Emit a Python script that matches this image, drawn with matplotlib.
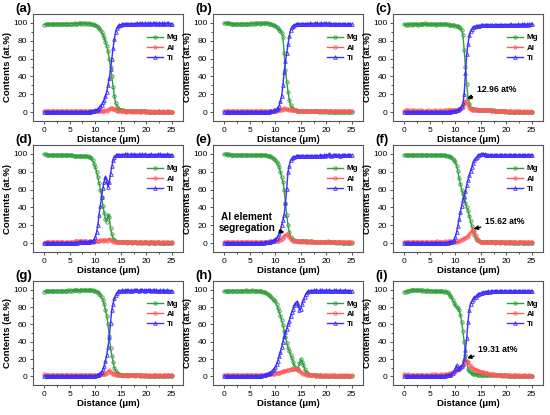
import numpy as np
import matplotlib
matplotlib.use("Agg")
import matplotlib.pyplot as plt

plt.rcParams['font.family'] = ['Liberation Sans', 'DejaVu Sans']

# ===== Data (EDS line scans, 0-25 um, 0.25 um step) =====
distance = np.linspace(0, 25, 101)

mg_a = [98.2, 98.5, 98.3, 98.6, 98.4, 98.8, 98.5, 98.7, 98.9, 98.6, 98.8, 99.0, 98.7, 98.9, 99.1, 98.8, 99.0, 98.9, 99.2, 99.0,
        99.1, 99.3, 99.0, 99.2, 99.4, 99.1, 99.3, 99.5, 99.6, 99.2, 99.4, 99.5, 99.3, 99.6, 99.1, 99.4, 99.2, 98.9, 98.5, 98.0,
        97.3, 96.5, 95.4, 94.0, 92.2, 90.0, 87.0, 83.5, 79.0, 74.0, 68.0, 60.0, 50.0, 40.0, 28.0, 18.0, 10.0, 6.0, 4.0, 3.0,
        2.3, 2.0, 1.8, 1.7, 1.6, 1.5, 1.5, 1.4, 1.3, 1.3, 1.2, 1.2, 1.1, 1.0, 1.0, 0.9, 0.9, 0.8, 0.8, 0.7,
        0.7, 0.6, 0.6, 0.5, 0.5, 0.4, 0.4, 0.3, 0.3, 0.2, 0.2, 0.2, 0.1, 0.1, 0.1, 0.0, 0.0, 0.0, 0.0, 0.0,
        0.0]
al_a = [1.5, 1.2, 1.6, 1.3, 1.1, 1.5, 1.2, 1.4, 1.0, 1.3, 1.5, 1.1, 1.4, 1.2, 1.6, 1.3, 1.0, 1.4, 1.2, 1.5,
        1.1, 1.3, 1.0, 1.4, 1.2, 0.9, 1.3, 1.1, 1.4, 1.0, 1.2, 0.9, 1.1, 1.3, 1.0, 1.2, 0.9, 1.1, 1.0, 1.2,
        0.9, 1.1, 1.3, 1.0, 1.2, 1.5, 1.1, 1.4, 1.8, 1.5, 2.2, 3.0, 4.2, 5.0, 4.0, 3.0, 2.2, 1.6, 1.2, 1.0,
        0.8, 1.0, 0.7, 0.9, 0.6, 0.8, 1.0, 0.7, 0.5, 0.8, 0.6, 0.9, 0.7, 0.5, 0.8, 0.6, 0.4, 0.7, 0.9, 0.6,
        0.5, 0.8, 0.6, 0.4, 0.7, 0.5, 0.8, 0.6, 0.4, 0.7, 0.9, 0.6, 0.5, 0.8, 0.6, 0.4, 0.7, 0.5, 0.8, 0.6,
        0.5]
ti_a = [0.3, 0.2, 0.4, 0.3, 0.2, 0.3, 0.4, 0.2, 0.3, 0.2, 0.3, 0.4, 0.3, 0.2, 0.3, 0.2, 0.4, 0.3, 0.2, 0.3,
        0.3, 0.2, 0.4, 0.3, 0.2, 0.3, 0.2, 0.4, 0.3, 0.2, 0.3, 0.3, 0.4, 0.3, 0.4, 0.5, 0.6, 0.8, 1.0, 1.4,
        2.0, 2.8, 3.8, 5.0, 6.5, 8.5, 11.0, 14.0, 18.0, 23.0, 30.0, 38.0, 48.0, 60.0, 72.0, 82.0, 90.0, 94.5, 96.5, 97.5,
        98.0, 98.3, 98.5, 98.7, 98.6, 98.9, 99.0, 98.8, 99.1, 99.0, 99.2, 99.3, 99.1, 99.4, 99.2, 99.5, 99.3, 99.4, 99.2, 99.5,
        99.3, 99.4, 99.2, 99.5, 99.3, 99.4, 99.6, 99.3, 99.5, 99.2, 99.4, 99.3, 99.5, 99.2, 99.4, 99.3, 99.5, 99.4, 99.2, 99.3,
        99.1]

mg_b = [99.5, 99.8, 100.0, 99.7, 99.4, 99.2, 99.0, 98.8, 98.6, 98.5, 98.7, 98.9, 99.0, 98.8, 99.1, 99.0, 99.2, 99.1, 99.3, 99.2,
        99.3, 99.4, 99.2, 99.5, 99.3, 99.6, 99.4, 99.5, 99.3, 99.6, 99.4, 99.5, 99.7, 99.4, 99.6, 99.3, 99.0, 98.7, 98.2, 97.6,
        96.8, 95.6, 94.0, 92.5, 91.0, 89.0, 84.0, 66.0, 47.0, 34.0, 23.0, 14.0, 8.0, 5.0, 3.5, 2.5, 2.0, 1.7, 1.5, 1.3,
        1.2, 1.1, 1.0, 1.0, 0.9, 1.1, 0.9, 0.8, 1.0, 0.8, 0.7, 0.9, 0.7, 0.8, 0.6, 0.8, 0.7, 0.5, 0.7, 0.6,
        0.8, 0.6, 0.5, 0.7, 0.5, 0.6, 0.4, 0.6, 0.5, 0.3, 0.5, 0.4, 0.6, 0.4, 0.3, 0.5, 0.3, 0.4, 0.2, 0.3,
        0.2]
al_b = [0.8, 1.0, 1.2, 0.9, 1.1, 1.3, 1.0, 1.2, 1.5, 1.1, 1.3, 1.0, 1.2, 0.9, 1.1, 1.3, 1.0, 1.2, 0.9, 1.1,
        1.0, 1.2, 0.9, 1.1, 1.3, 1.0, 1.2, 0.8, 1.0, 1.2, 0.9, 1.1, 1.0, 1.2, 1.1, 1.3, 1.2, 1.4, 1.3, 1.5,
        1.4, 1.6, 1.8, 2.0, 2.3, 2.8, 3.5, 4.2, 4.0, 3.6, 3.2, 2.8, 2.5, 2.2, 2.0, 1.9, 1.8, 1.7, 1.6, 1.5,
        1.6, 1.4, 1.5, 1.3, 1.4, 1.2, 1.5, 1.3, 1.1, 1.4, 1.2, 1.0, 1.3, 1.1, 1.2, 1.0, 1.3, 1.1, 0.9, 1.2,
        1.0, 1.2, 0.9, 1.1, 1.3, 1.0, 1.2, 0.9, 1.1, 1.4, 1.0, 1.2, 0.9, 1.1, 1.3, 1.0, 1.2, 1.4, 1.1, 1.3,
        1.2]
ti_b = [0.5, 0.4, 0.3, 0.5, 0.4, 0.3, 0.5, 0.4, 0.6, 0.4, 0.3, 0.5, 0.4, 0.3, 0.5, 0.4, 0.3, 0.5, 0.4, 0.3,
        0.4, 0.5, 0.3, 0.4, 0.5, 0.3, 0.4, 0.3, 0.5, 0.4, 0.3, 0.4, 0.5, 0.4, 0.5, 0.6, 0.8, 1.0, 1.3, 1.8,
        2.5, 3.5, 5.0, 7.0, 12.0, 18.0, 30.0, 45.0, 57.0, 66.0, 76.0, 85.0, 92.0, 95.5, 97.0, 97.8, 98.3, 98.5, 98.8, 98.6,
        98.9, 99.1, 98.8, 99.2, 99.0, 99.3, 99.1, 99.4, 99.2, 99.0, 99.3, 99.5, 99.2, 99.4, 99.1, 99.3, 99.6, 99.2, 99.4, 99.3,
        99.5, 99.2, 99.4, 99.1, 99.3, 99.0, 99.2, 98.9, 99.1, 98.8, 99.0, 98.7, 98.9, 98.6, 98.8, 98.5, 98.7, 98.4, 98.6, 98.3,
        98.5]

mg_c = [98.5, 98.2, 98.8, 98.0, 98.4, 98.9, 98.1, 98.6, 98.3, 99.0, 98.5, 98.2, 98.7, 99.2, 98.4, 98.8, 99.5, 98.6, 98.9, 98.3,
        98.7, 98.4, 99.0, 98.5, 98.8, 98.2, 98.9, 98.6, 99.1, 98.4, 98.7, 98.9, 98.3, 98.6, 98.4, 98.0, 97.8, 97.5, 97.6, 97.2,
        97.0, 96.6, 96.0, 95.2, 94.0, 92.0, 87.0, 70.0, 50.0, 31.0, 16.0, 9.0, 5.0, 4.0, 3.5, 3.2, 3.0, 2.8, 2.7, 2.6,
        2.5, 2.6, 2.4, 2.7, 2.5, 2.6, 2.8, 2.4, 2.2, 2.0, 1.8, 1.5, 1.3, 1.1, 1.0, 0.9, 0.8, 0.7, 0.8, 0.6,
        0.7, 0.5, 0.6, 0.4, 0.5, 0.6, 0.4, 0.5, 0.3, 0.4, 0.5, 0.3, 0.4, 0.2, 0.3, 0.4, 0.2, 0.3, 0.2, 0.3,
        0.2]
al_c = [1.2, 1.8, 2.2, 1.6, 2.0, 1.4, 1.9, 1.5, 2.1, 1.7, 1.3, 1.8, 1.5, 1.9, 1.4, 1.7, 1.2, 1.6, 1.3, 1.8,
        1.4, 1.7, 1.2, 1.5, 1.8, 1.3, 1.6, 1.4, 1.9, 1.5, 1.7, 2.0, 1.6, 1.9, 2.2, 2.0, 2.4, 2.1, 2.6, 2.3,
        2.5, 2.8, 3.0, 3.4, 3.8, 4.5, 6.0, 10.0, 12.96, 11.0, 8.0, 5.0, 3.5, 2.8, 2.5, 2.2, 2.0, 1.9, 2.0, 1.8,
        1.9, 2.1, 2.3, 2.5, 2.4, 2.2, 2.0, 1.8, 1.6, 1.5, 1.3, 1.2, 1.1, 1.0, 1.2, 0.9, 1.1, 0.8, 1.0, 0.7,
        0.9, 0.6, 0.8, 1.0, 0.7, 0.5, 0.8, 0.6, 0.9, 0.7, 0.5, 0.8, 0.6, 0.4, 0.7, 0.5, 0.8, 0.6, 0.4, 0.7,
        0.5]
ti_c = [0.2, 0.3, 0.2, 0.4, 0.3, 0.2, 0.3, 0.2, 0.4, 0.3, 0.2, 0.3, 0.2, 0.3, 0.4, 0.2, 0.3, 0.2, 0.3, 0.2,
        0.3, 0.2, 0.4, 0.3, 0.2, 0.3, 0.2, 0.3, 0.4, 0.3, 0.2, 0.3, 0.4, 0.3, 0.4, 0.5, 0.6, 0.8, 1.0, 1.3,
        1.7, 2.2, 2.8, 3.5, 4.5, 6.5, 10.0, 20.0, 44.0, 65.0, 76.0, 86.0, 91.0, 93.5, 95.0, 95.8, 96.3, 96.6, 96.9, 97.1,
        97.2, 97.4, 97.3, 97.5, 97.4, 97.6, 97.5, 97.7, 97.6, 97.8, 97.5, 97.7, 97.9, 97.6, 97.8, 98.0, 97.7, 97.9, 98.1, 97.8,
        98.0, 98.2, 97.9, 98.1, 98.3, 98.0, 98.2, 97.9, 98.1, 98.4, 98.0, 98.2, 98.5, 98.1, 98.3, 98.0, 98.4, 98.2, 98.6, 98.3,
        98.5]

mg_d = [99.8, 99.5, 99.2, 99.0, 98.8, 99.1, 98.9, 98.7, 99.0, 98.8, 98.6, 98.9, 98.7, 99.0, 98.8, 98.5, 98.9, 98.6, 98.8, 99.0,
        98.8, 98.6, 98.4, 98.2, 98.0, 97.8, 98.1, 97.7, 97.9, 97.5, 97.7, 97.4, 97.6, 97.3, 97.5, 97.0, 96.5, 95.0, 93.0, 89.0,
        85.0, 80.0, 74.0, 67.0, 60.0, 52.0, 42.0, 34.0, 27.0, 24.0, 32.0, 29.0, 17.0, 10.0, 5.0, 3.0, 2.0, 1.5, 1.2, 1.0,
        0.9, 1.0, 0.8, 0.9, 0.7, 0.8, 1.0, 0.7, 0.9, 0.6, 0.8, 0.7, 0.9, 0.6, 0.8, 0.5, 0.7, 0.6, 0.8, 0.5,
        0.7, 0.5, 0.6, 0.4, 0.7, 0.5, 0.6, 0.4, 0.5, 0.7, 0.4, 0.6, 0.5, 0.3, 0.6, 0.4, 0.5, 0.3, 0.5, 0.4,
        0.3]
al_d = [0.5, 0.8, 1.0, 0.7, 1.2, 0.9, 1.1, 0.8, 1.3, 1.0, 0.7, 1.1, 0.9, 1.2, 0.8, 1.0, 0.6, 0.9, 1.1, 0.8,
        1.0, 1.3, 1.1, 1.5, 1.8, 2.0, 2.3, 2.6, 2.4, 2.8, 2.2, 2.5, 2.0, 1.8, 1.6, 1.9, 1.5, 1.7, 1.4, 1.6,
        1.8, 2.0, 2.4, 2.8, 3.0, 3.2, 2.8, 3.5, 3.0, 2.6, 3.8, 4.8, 3.5, 2.5, 1.8, 1.4, 1.2, 1.0, 0.9, 1.1,
        0.8, 1.0, 0.7, 1.1, 0.9, 0.6, 1.0, 0.8, 1.2, 0.9, 0.7, 1.0, 0.8, 0.6, 0.9, 1.1, 0.8, 0.6, 0.9, 0.7,
        1.0, 0.8, 0.6, 0.9, 1.1, 0.7, 0.9, 0.6, 0.8, 1.0, 0.7, 0.5, 0.9, 0.8, 0.6, 1.0, 0.7, 0.9, 0.6, 0.8,
        0.7]
ti_d = [0.2, 0.3, 0.2, 0.3, 0.4, 0.2, 0.3, 0.2, 0.3, 0.2, 0.4, 0.3, 0.2, 0.3, 0.2, 0.4, 0.3, 0.2, 0.3, 0.2,
        0.3, 0.4, 0.3, 0.5, 0.4, 0.6, 0.5, 0.7, 0.8, 0.9, 1.0, 1.2, 1.1, 1.3, 1.5, 1.7, 1.9, 2.2, 2.5, 4.0,
        7.0, 12.0, 20.0, 32.0, 42.0, 52.0, 62.0, 69.0, 74.0, 70.0, 63.0, 68.0, 78.0, 86.0, 93.0, 97.0, 98.5, 98.8, 99.0, 99.2,
        99.0, 99.3, 99.1, 99.4, 99.2, 99.5, 99.3, 99.1, 99.4, 99.2, 99.5, 99.3, 99.0, 99.2, 99.4, 99.1, 99.3, 99.5, 99.2, 99.4,
        99.2, 99.0, 99.3, 99.1, 99.4, 99.2, 99.0, 99.3, 99.1, 99.4, 99.2, 99.5, 99.1, 99.3, 99.0, 99.2, 99.4, 99.1, 99.3, 99.2,
        99.0]

mg_e = [99.8, 99.6, 99.5, 99.3, 99.4, 99.2, 99.3, 99.1, 99.2, 99.0, 99.1, 98.9, 99.0, 98.8, 99.0, 98.9, 98.7, 98.9, 98.8, 98.6,
        98.8, 98.7, 98.9, 98.6, 98.8, 98.5, 98.7, 98.9, 98.6, 98.8, 98.5, 98.7, 98.4, 98.6, 98.2, 97.8, 97.2, 96.5, 95.5, 94.5,
        93.0, 91.0, 88.5, 85.0, 80.0, 74.0, 69.0, 60.0, 45.0, 32.0, 20.0, 12.0, 7.0, 4.5, 3.5, 3.0, 2.7, 2.5, 2.3, 2.2,
        2.0, 2.2, 1.9, 2.1, 1.8, 2.0, 1.7, 1.9, 1.6, 1.8, 1.5, 1.7, 1.4, 1.6, 1.3, 1.5, 1.2, 1.4, 1.1, 1.3,
        1.0, 1.2, 0.9, 1.1, 0.8, 1.0, 0.7, 0.9, 0.6, 0.8, 0.5, 0.7, 0.6, 0.4, 0.6, 0.5, 0.3, 0.5, 0.4, 0.3,
        0.3]
al_e = [0.8, 1.2, 1.0, 1.4, 1.1, 0.9, 1.3, 1.0, 1.2, 0.8, 1.1, 1.3, 0.9, 1.2, 1.0, 1.4, 1.1, 0.8, 1.2, 1.0,
        1.3, 1.0, 1.2, 0.9, 1.4, 1.1, 1.3, 1.0, 1.5, 1.2, 1.4, 1.1, 1.6, 1.3, 1.5, 1.8, 1.6, 2.0, 1.8, 2.2,
        2.0, 2.4, 2.8, 3.2, 3.8, 4.8, 6.0, 7.5, 9.0, 10.0, 9.5, 7.0, 4.5, 3.2, 2.5, 2.2, 2.0, 1.8, 2.0, 1.7,
        1.9, 1.6, 1.8, 1.5, 2.0, 1.7, 1.4, 1.8, 1.5, 1.3, 1.7, 1.4, 1.6, 1.2, 1.5, 1.3, 1.6, 1.1, 1.4, 1.2,
        1.5, 2.2, 1.3, 1.1, 1.4, 1.0, 1.3, 0.9, 1.2, 1.0, 0.8, 1.1, 0.9, 1.2, 0.8, 1.0, 0.7, 0.9, 1.1, 0.8,
        0.9]
ti_e = [0.3, 0.2, 0.4, 0.3, 0.2, 0.3, 0.2, 0.4, 0.3, 0.2, 0.3, 0.2, 0.3, 0.4, 0.2, 0.3, 0.2, 0.3, 0.2, 0.4,
        0.3, 0.2, 0.3, 0.4, 0.3, 0.2, 0.4, 0.3, 0.5, 0.4, 0.6, 0.5, 0.7, 0.8, 1.0, 1.2, 1.5, 2.0, 2.6, 3.3,
        4.2, 5.5, 7.5, 10.0, 14.0, 20.0, 26.0, 32.0, 45.0, 61.0, 80.0, 87.0, 93.0, 95.0, 96.2, 96.8, 97.2, 97.5, 97.3, 97.6,
        97.8, 97.5, 97.9, 97.6, 98.0, 97.7, 97.9, 98.1, 97.8, 98.0, 97.7, 98.2, 97.9, 98.1, 97.8, 98.3, 98.0, 98.2, 98.5, 98.1,
        98.4, 98.8, 99.5, 98.6, 98.2, 98.5, 98.9, 98.3, 98.6, 98.4, 98.7, 98.2, 98.5, 98.8, 98.3, 98.6, 98.4, 98.7, 98.5, 98.3,
        98.6]

mg_f = [98.8, 99.2, 99.0, 98.7, 99.1, 98.9, 99.3, 99.0, 98.8, 99.2, 98.9, 99.1, 98.7, 99.0, 98.8, 99.2, 98.9, 99.1, 98.8, 99.0,
        98.7, 99.0, 98.8, 99.1, 98.9, 98.6, 98.9, 98.7, 99.0, 98.8, 98.5, 98.7, 98.4, 98.2, 98.0, 97.6, 97.0, 96.0, 94.5, 93.0,
        91.0, 87.0, 81.0, 73.0, 66.0, 60.0, 55.0, 50.0, 45.0, 40.0, 36.0, 30.0, 25.0, 19.0, 14.0, 9.0, 6.0, 4.0, 3.0, 2.0,
        1.6, 1.4, 1.2, 1.3, 1.1, 1.0, 1.2, 0.9, 1.1, 0.8, 1.0, 0.9, 0.7, 1.0, 0.8, 0.6, 0.9, 0.7, 0.8, 0.6,
        0.8, 0.6, 0.7, 0.5, 0.8, 0.6, 0.5, 0.7, 0.4, 0.6, 0.5, 0.7, 0.4, 0.6, 0.3, 0.5, 0.4, 0.6, 0.3, 0.5,
        0.4]
al_f = [1.5, 1.2, 1.6, 1.3, 1.7, 1.4, 1.2, 1.5, 1.3, 1.6, 1.2, 1.4, 1.7, 1.3, 1.5, 1.2, 1.6, 1.4, 1.3, 1.5,
        1.2, 1.6, 1.4, 1.7, 1.3, 1.5, 1.8, 1.4, 1.6, 1.3, 1.7, 1.5, 1.8, 1.6, 1.9, 1.7, 2.0, 1.8, 1.6, 1.4,
        1.2, 1.4, 1.8, 2.3, 3.0, 3.8, 4.5, 5.2, 6.0, 7.0, 8.5, 10.0, 12.0, 14.0, 15.62, 13.0, 9.0, 5.0, 3.0, 2.0,
        1.5, 1.2, 1.0, 0.8, 1.1, 0.9, 1.2, 0.7, 1.0, 0.8, 1.1, 0.6, 0.9, 1.2, 0.8, 1.0, 0.7, 1.1, 0.9, 0.6,
        1.0, 0.8, 1.1, 0.7, 0.9, 1.2, 0.8, 1.0, 0.6, 0.9, 1.1, 0.7, 1.0, 0.8, 1.2, 0.9, 0.7, 1.0, 1.3, 0.8,
        1.1]
ti_f = [0.2, 0.3, 0.2, 0.4, 0.3, 0.2, 0.3, 0.2, 0.3, 0.4, 0.2, 0.3, 0.2, 0.3, 0.2, 0.4, 0.3, 0.2, 0.3, 0.2,
        0.3, 0.2, 0.4, 0.3, 0.2, 0.3, 0.4, 0.3, 0.2, 0.3, 0.4, 0.3, 0.5, 0.4, 0.6, 0.8, 1.0, 1.5, 2.2, 3.5,
        7.0, 12.0, 19.0, 27.0, 35.0, 42.0, 48.0, 53.0, 58.0, 65.0, 71.0, 76.0, 81.0, 85.0, 90.0, 93.0, 95.5, 97.0, 98.5, 99.3,
        99.8, 100.2, 100.0, 99.6, 99.2, 98.8, 98.5, 98.7, 98.4, 98.6, 98.3, 98.5, 98.7, 98.4, 98.6, 98.3, 98.5, 98.8, 98.4, 98.6,
        98.3, 98.5, 98.7, 98.4, 98.6, 98.8, 98.5, 98.3, 98.6, 98.4, 98.7, 98.5, 98.3, 98.6, 98.8, 98.5, 98.7, 98.4, 98.6, 98.5,
        98.7]

mg_g = [97.8, 98.2, 98.5, 98.3, 98.6, 98.4, 98.7, 98.5, 98.8, 98.6, 98.9, 98.7, 98.5, 98.8, 98.6, 98.9, 98.7, 99.0, 98.8, 99.1,
        98.9, 99.2, 99.0, 99.3, 99.1, 99.4, 99.2, 99.0, 99.3, 99.1, 99.4, 99.2, 99.5, 99.3, 99.6, 99.4, 99.5, 99.3, 99.1, 98.8,
        98.4, 97.8, 97.0, 95.5, 94.0, 91.0, 88.0, 83.0, 77.0, 70.0, 60.0, 47.0, 33.0, 24.0, 16.0, 10.0, 6.0, 4.0, 3.0, 2.3,
        2.0, 1.8, 1.6, 1.7, 1.5, 1.6, 1.4, 1.5, 1.3, 1.5, 1.2, 1.4, 1.1, 1.3, 1.0, 1.2, 0.9, 1.1, 0.8, 1.0,
        0.7, 0.9, 0.6, 0.8, 0.5, 0.7, 0.4, 0.6, 0.5, 0.3, 0.5, 0.4, 0.6, 0.3, 0.5, 0.2, 0.4, 0.3, 0.5, 0.2,
        0.4]
al_g = [2.2, 1.8, 1.5, 1.9, 1.6, 2.0, 1.7, 1.4, 1.8, 1.5, 1.9, 1.6, 2.1, 1.7, 1.4, 1.8, 1.5, 1.9, 1.6, 2.0,
        1.7, 1.4, 1.8, 1.5, 1.9, 1.6, 1.3, 1.7, 1.4, 1.8, 1.5, 1.9, 1.6, 1.3, 1.7, 1.5, 1.8, 1.6, 1.4, 1.7,
        1.5, 1.8, 1.6, 2.0, 1.8, 2.2, 2.5, 2.8, 3.2, 4.0, 5.5, 7.0, 5.5, 4.0, 3.0, 2.5, 2.0, 1.7, 1.5, 1.3,
        1.2, 1.5, 1.1, 1.4, 1.0, 1.3, 0.9, 1.2, 1.0, 1.4, 1.1, 0.9, 1.3, 1.0, 1.2, 0.8, 1.1, 1.3, 0.9, 1.2,
        1.0, 1.3, 0.9, 1.2, 0.8, 1.1, 1.4, 1.0, 1.2, 0.9, 1.3, 1.0, 0.8, 1.2, 1.5, 1.1, 1.3, 1.6, 1.2, 1.5,
        1.8]
ti_g = [0.3, 0.2, 0.3, 0.4, 0.2, 0.3, 0.2, 0.3, 0.2, 0.4, 0.3, 0.2, 0.3, 0.2, 0.3, 0.4, 0.2, 0.3, 0.2, 0.3,
        0.2, 0.3, 0.4, 0.2, 0.3, 0.2, 0.3, 0.4, 0.3, 0.2, 0.3, 0.4, 0.3, 0.2, 0.3, 0.4, 0.3, 0.4, 0.5, 0.6,
        0.8, 1.2, 1.8, 2.6, 3.5, 5.0, 8.0, 12.0, 18.0, 25.0, 34.0, 45.0, 62.0, 77.0, 84.0, 90.0, 94.0, 96.5, 98.0, 98.6,
        98.9, 99.1, 98.8, 99.2, 99.0, 99.3, 99.1, 98.9, 99.2, 99.0, 99.3, 99.1, 99.4, 99.2, 99.0, 99.3, 99.1, 99.4, 99.2, 99.0,
        99.3, 99.1, 99.4, 99.2, 99.0, 99.3, 99.1, 98.9, 99.2, 99.0, 98.8, 99.1, 98.9, 99.2, 99.0, 98.8, 99.1, 98.9, 98.7, 99.0,
        98.8]

mg_h = [98.0, 98.3, 98.1, 98.5, 98.7, 98.4, 98.8, 98.6, 98.9, 98.7, 99.0, 98.8, 98.6, 98.9, 98.7, 99.0, 98.8, 99.1, 98.9, 98.7,
        99.0, 98.8, 99.1, 98.9, 98.7, 99.0, 98.8, 98.6, 98.4, 98.1, 97.8, 97.3, 96.8, 96.0, 95.0, 94.0, 92.5, 91.0, 89.0, 87.5,
        86.5, 83.0, 79.0, 75.0, 70.0, 65.0, 59.0, 52.0, 45.0, 39.0, 33.0, 29.0, 25.0, 21.0, 16.0, 12.0, 10.0, 8.0, 9.0, 15.0,
        20.0, 17.0, 13.0, 9.0, 5.0, 3.5, 2.5, 2.0, 1.6, 1.4, 1.2, 1.0, 0.9, 1.1, 0.8, 1.0, 0.7, 0.9, 0.6, 0.8,
        0.7, 0.5, 0.8, 0.6, 0.4, 0.7, 0.5, 0.8, 0.6, 0.4, 0.7, 0.5, 0.3, 0.6, 0.4, 0.7, 0.5, 0.3, 0.6, 0.4,
        0.5]
al_h = [1.5, 1.2, 1.6, 1.3, 1.1, 1.4, 1.2, 1.5, 1.0, 1.3, 1.1, 1.4, 1.2, 0.9, 1.3, 1.1, 1.4, 1.0, 1.2, 1.3,
        1.1, 1.4, 1.0, 1.3, 1.2, 1.5, 1.3, 1.6, 1.4, 1.7, 1.5, 1.8, 1.7, 2.0, 2.2, 2.4, 2.6, 2.8, 3.0, 3.2,
        3.4, 3.7, 4.0, 4.4, 4.8, 5.2, 5.6, 6.0, 6.5, 7.0, 7.4, 7.8, 8.2, 8.6, 9.0, 9.0, 8.6, 8.0, 7.2, 6.2,
        5.0, 4.0, 3.2, 2.6, 2.2, 1.8, 1.5, 1.3, 1.1, 1.3, 1.0, 1.2, 0.9, 1.1, 0.8, 1.0, 1.2, 0.9, 1.1, 0.8,
        1.0, 1.2, 0.9, 0.7, 1.0, 1.2, 0.8, 1.0, 0.7, 0.9, 1.1, 0.8, 1.0, 0.6, 0.9, 1.1, 0.8, 1.0, 0.7, 0.9,
        1.0]
ti_h = [0.3, 0.2, 0.4, 0.3, 0.2, 0.3, 0.2, 0.3, 0.4, 0.2, 0.3, 0.2, 0.3, 0.2, 0.4, 0.3, 0.2, 0.3, 0.2, 0.3,
        0.4, 0.3, 0.2, 0.3, 0.4, 0.3, 0.5, 0.4, 0.6, 0.8, 1.0, 1.3, 1.7, 2.2, 2.8, 3.5, 4.3, 5.5, 7.0, 8.5,
        11.0, 14.0, 18.0, 23.0, 28.0, 34.0, 40.0, 46.0, 51.0, 55.0, 60.0, 64.0, 70.0, 74.0, 78.0, 82.0, 85.0, 86.0, 82.0, 77.0,
        78.0, 84.0, 88.0, 92.0, 95.0, 97.0, 98.0, 98.5, 99.0, 98.7, 99.1, 98.8, 99.2, 99.0, 98.7, 99.1, 98.9, 99.3, 99.0, 98.8,
        99.2, 98.9, 99.1, 98.7, 99.0, 98.8, 99.2, 98.9, 99.1, 98.6, 98.9, 99.2, 98.8, 99.0, 98.7, 99.1, 98.9, 98.6, 99.0, 98.8,
        98.5]

mg_i = [97.5, 97.8, 98.2, 98.6, 99.0, 99.2, 99.4, 99.7, 99.9, 100.0, 99.8, 99.5, 99.3, 99.1, 98.9, 99.2, 99.0, 98.8, 99.1, 98.9,
        98.7, 99.0, 98.6, 98.4, 98.7, 98.2, 98.5, 98.0, 98.3, 97.9, 98.1, 97.8, 98.0, 97.3, 96.8, 95.5, 93.0, 91.0, 88.0, 85.0,
        82.0, 80.0, 79.0, 76.0, 71.0, 63.0, 52.0, 40.0, 25.0, 16.0, 9.0, 6.0, 4.5, 3.5, 3.0, 2.6, 2.4, 2.2, 2.0, 1.9,
        1.8, 1.7, 1.9, 1.6, 1.8, 1.5, 1.7, 1.4, 1.6, 1.3, 1.5, 1.2, 1.4, 1.1, 1.3, 1.0, 1.2, 0.9, 1.1, 0.8,
        1.0, 0.7, 0.9, 0.6, 0.8, 0.5, 0.7, 0.4, 0.6, 0.5, 0.3, 0.5, 0.4, 0.2, 0.4, 0.3, 0.5, 0.2, 0.4, 0.3,
        0.2]
al_i = [2.5, 2.0, 1.6, 2.2, 1.8, 1.5, 1.9, 1.6, 2.0, 1.7, 1.4, 1.8, 1.5, 1.9, 1.6, 1.3, 1.7, 1.4, 1.8, 1.5,
        1.9, 1.6, 2.2, 1.8, 2.5, 2.0, 1.7, 2.1, 1.8, 2.3, 1.9, 2.2, 2.0, 2.4, 2.6, 3.0, 3.5, 4.0, 4.8, 5.5,
        6.5, 7.2, 8.0, 9.0, 10.5, 12.0, 13.5, 16.0, 19.31, 18.0, 16.0, 13.5, 11.5, 10.0, 9.0, 8.0, 7.5, 7.0, 6.5, 6.0,
        5.5, 5.0, 4.6, 4.2, 3.8, 3.5, 3.2, 3.0, 2.7, 2.5, 2.3, 2.1, 1.9, 1.7, 1.5, 1.4, 1.6, 1.3, 1.2, 1.4,
        1.1, 1.3, 1.0, 1.2, 0.9, 1.1, 0.8, 1.0, 1.2, 0.9, 1.1, 0.7, 0.9, 1.1, 0.8, 1.0, 0.6, 0.9, 1.0, 0.7,
        0.8]
ti_i = [0.2, 0.3, 0.2, 0.4, 0.3, 0.2, 0.3, 0.2, 0.4, 0.3, 0.2, 0.3, 0.2, 0.3, 0.4, 0.2, 0.3, 0.2, 0.3, 0.2,
        0.3, 0.2, 0.4, 0.3, 0.2, 0.4, 0.3, 0.5, 0.4, 0.6, 0.5, 0.7, 0.8, 1.0, 1.2, 1.5, 2.0, 2.8, 4.0, 6.0,
        9.0, 13.0, 8.5, 9.5, 10.5, 11.5, 14.0, 20.0, 30.0, 44.0, 63.0, 77.0, 84.0, 87.0, 89.0, 91.0, 92.0, 93.5, 94.5, 95.5,
        96.0, 96.5, 97.0, 97.3, 97.5, 97.8, 98.0, 97.7, 98.1, 97.9, 98.2, 98.0, 98.3, 97.9, 98.2, 98.4, 98.1, 98.3, 98.0, 98.2,
        98.4, 98.1, 98.3, 98.5, 98.2, 98.0, 98.4, 98.2, 98.5, 98.1, 98.3, 98.6, 98.2, 98.4, 98.0, 98.3, 98.5, 98.2, 98.4, 98.1,
        98.3]

panel_labels = ["(a)", "(b)", "(c)", "(d)", "(e)", "(f)", "(g)", "(h)", "(i)"]
mg_all = [mg_a, mg_b, mg_c, mg_d, mg_e, mg_f, mg_g, mg_h, mg_i]
al_all = [al_a, al_b, al_c, al_d, al_e, al_f, al_g, al_h, al_i]
ti_all = [ti_a, ti_b, ti_c, ti_d, ti_e, ti_f, ti_g, ti_h, ti_i]

# annotations: panel index -> (text, arrow tip, text position)
notes = {
    2: ("12.96 at%", (12.3, 15.5), (14.2, 25)),
    4: ("Al element\nsegregation", (11.8, 12), (4.4, 23)),
    5: ("15.62 at%", (13.6, 16), (15.8, 24)),
    8: ("19.31 at%", (12.3, 21), (14.5, 31.5)),
}

# ===== Styles / layout (pixels of a 550x415 canvas) =====
C_MG = '#2f9e3a'
C_AL = '#ff5a5a'
C_TI = '#3c2cff'
W, H = 550, 415
col_left = [33, 213, 393]
row_top = [14, 145, 281]
row_bot = [121, 252, 385]
AX_W = 150

fig = plt.figure(figsize=(W / 100, H / 100), dpi=100)

for k in range(9):
    r, c = divmod(k, 3)
    ax = fig.add_axes([col_left[c] / W, 1 - row_bot[r] / H,
                       AX_W / W, (row_bot[r] - row_top[r]) / H])
    ax.plot(distance, mg_all[k], '-o', color=C_MG, lw=1.0, ms=2.4,
            mfc='none', mew=0.6, label='Mg')
    ax.plot(distance, al_all[k], '-o', color=C_AL, lw=1.0, ms=2.4,
            mfc='none', mew=0.6, label='Al')
    ax.plot(distance, ti_all[k], '-^', color=C_TI, lw=1.0, ms=2.6,
            mfc='none', mew=0.6, label='Ti')

    ax.set_xlim(-2.2, 27.2)
    ax.set_ylim(-10, 110)
    ax.set_xticks([0, 5, 10, 15, 20, 25])
    ax.set_xticks([2.5, 7.5, 12.5, 17.5, 22.5], minor=True)
    ax.set_yticks([0, 20, 40, 60, 80, 100])
    ax.set_yticks([10, 30, 50, 70, 90], minor=True)
    ax.tick_params(which='both', direction='out', top=False, right=False,
                   labelsize=6, width=0.6, color='#333333', pad=1.5)
    ax.tick_params(which='major', length=2.5)
    ax.tick_params(which='minor', length=1.5)
    for s in ax.spines.values():
        s.set_color('#555555')
        s.set_linewidth(0.8)

    ax.set_xlabel("Distance (μm)", fontsize=6.8, fontweight='bold', labelpad=1)
    ax.set_ylabel("Contents (at.%)", fontsize=6.8, fontweight='bold', labelpad=1)
    ax.text(-0.12, 1.05, panel_labels[k], transform=ax.transAxes,
            fontsize=9.5, fontweight='bold', ha='left', va='center')

    leg = ax.legend(loc='upper right', bbox_to_anchor=(1.0, 0.86), frameon=False,
                    fontsize=5.8, handlelength=2.0, handletextpad=0.4,
                    labelspacing=0.3, borderaxespad=0.2, numpoints=1)
    for t in leg.get_texts():
        t.set_fontweight('bold')

    if k in notes:
        txt, tip, pos = notes[k]
        ha = 'center' if k == 4 else 'left'
        ax.annotate(txt, xy=tip, xytext=pos, fontsize=6.2 if k != 4 else 7.2,
                    fontweight='bold', ha=ha, va='center', linespacing=1.1,
                    arrowprops=dict(arrowstyle='-|>', color='k', lw=1.0,
                                    mutation_scale=6, shrinkA=1, shrinkB=0))

fig.savefig("out.png", dpi=100)
